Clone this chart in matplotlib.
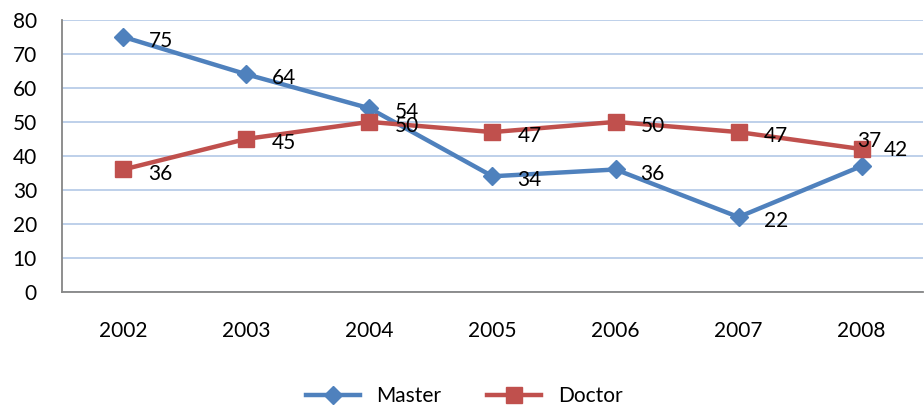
import matplotlib.pyplot as plt
import numpy as np

# ===== Data =====
years = ["2002", "2003", "2004", "2005", "2006", "2007", "2008"]
master = [75, 64, 54, 34, 36, 22, 37]
doctor = [36, 45, 50, 47, 50, 47, 42]

# ===== Styling =====
blue = "#4F81BD"
red = "#C0504D"
grid_color = "#B9CDE8"
font_name = "Lato"
font_size = 15

plt.rcParams["font.family"] = [font_name, "DejaVu Sans"]

fig = plt.figure(figsize=(9.24, 4.07), dpi=100)
ax = fig.add_axes([0.067, 0.283, 0.932, 0.668])

x = np.arange(len(years))
ax.plot(x, master, color=blue, linewidth=3.2, marker="D", markersize=9,
        label="Master", zorder=3)
ax.plot(x, doctor, color=red, linewidth=3.2, marker="s", markersize=11,
        label="Doctor", zorder=3)

# data labels to the right of each point (Excel nudged the last pair)
m_off = [(18, -3)] * 6 + [(-3, 18)]
d_off = [(18, -3)] * 6 + [(16, -1)]
for xi, v, off in zip(x, master, m_off):
    ax.annotate(str(v), (xi, v), xytext=off, textcoords="offset points",
                ha="left", va="center", fontsize=font_size, zorder=4)
for xi, v, off in zip(x, doctor, d_off):
    ax.annotate(str(v), (xi, v), xytext=off, textcoords="offset points",
                ha="left", va="center", fontsize=font_size, zorder=4)

ax.set_xlim(-0.5, 6.5)
ax.set_ylim(0, 80)
ax.set_yticks(range(0, 81, 10))
ax.set_xticks(x)
ax.set_xticklabels(years)
ax.tick_params(axis="both", labelsize=font_size, length=0)
ax.tick_params(axis="x", pad=21)
ax.tick_params(axis="y", pad=18)

ax.yaxis.grid(True, color=grid_color, linewidth=1.3)
ax.set_axisbelow(True)
for s in ["top", "right"]:
    ax.spines[s].set_visible(False)
ax.spines["left"].set_color("#868686")
ax.spines["bottom"].set_color("#868686")
ax.spines["left"].set_linewidth(1.3)
ax.spines["bottom"].set_linewidth(1.3)

ax.legend(loc="center", bbox_to_anchor=(0.467, -0.385), ncol=2, frameon=False,
          fontsize=font_size, handlelength=2.6, handletextpad=0.8,
          columnspacing=2.2)

fig.savefig("out.png", dpi=100)
